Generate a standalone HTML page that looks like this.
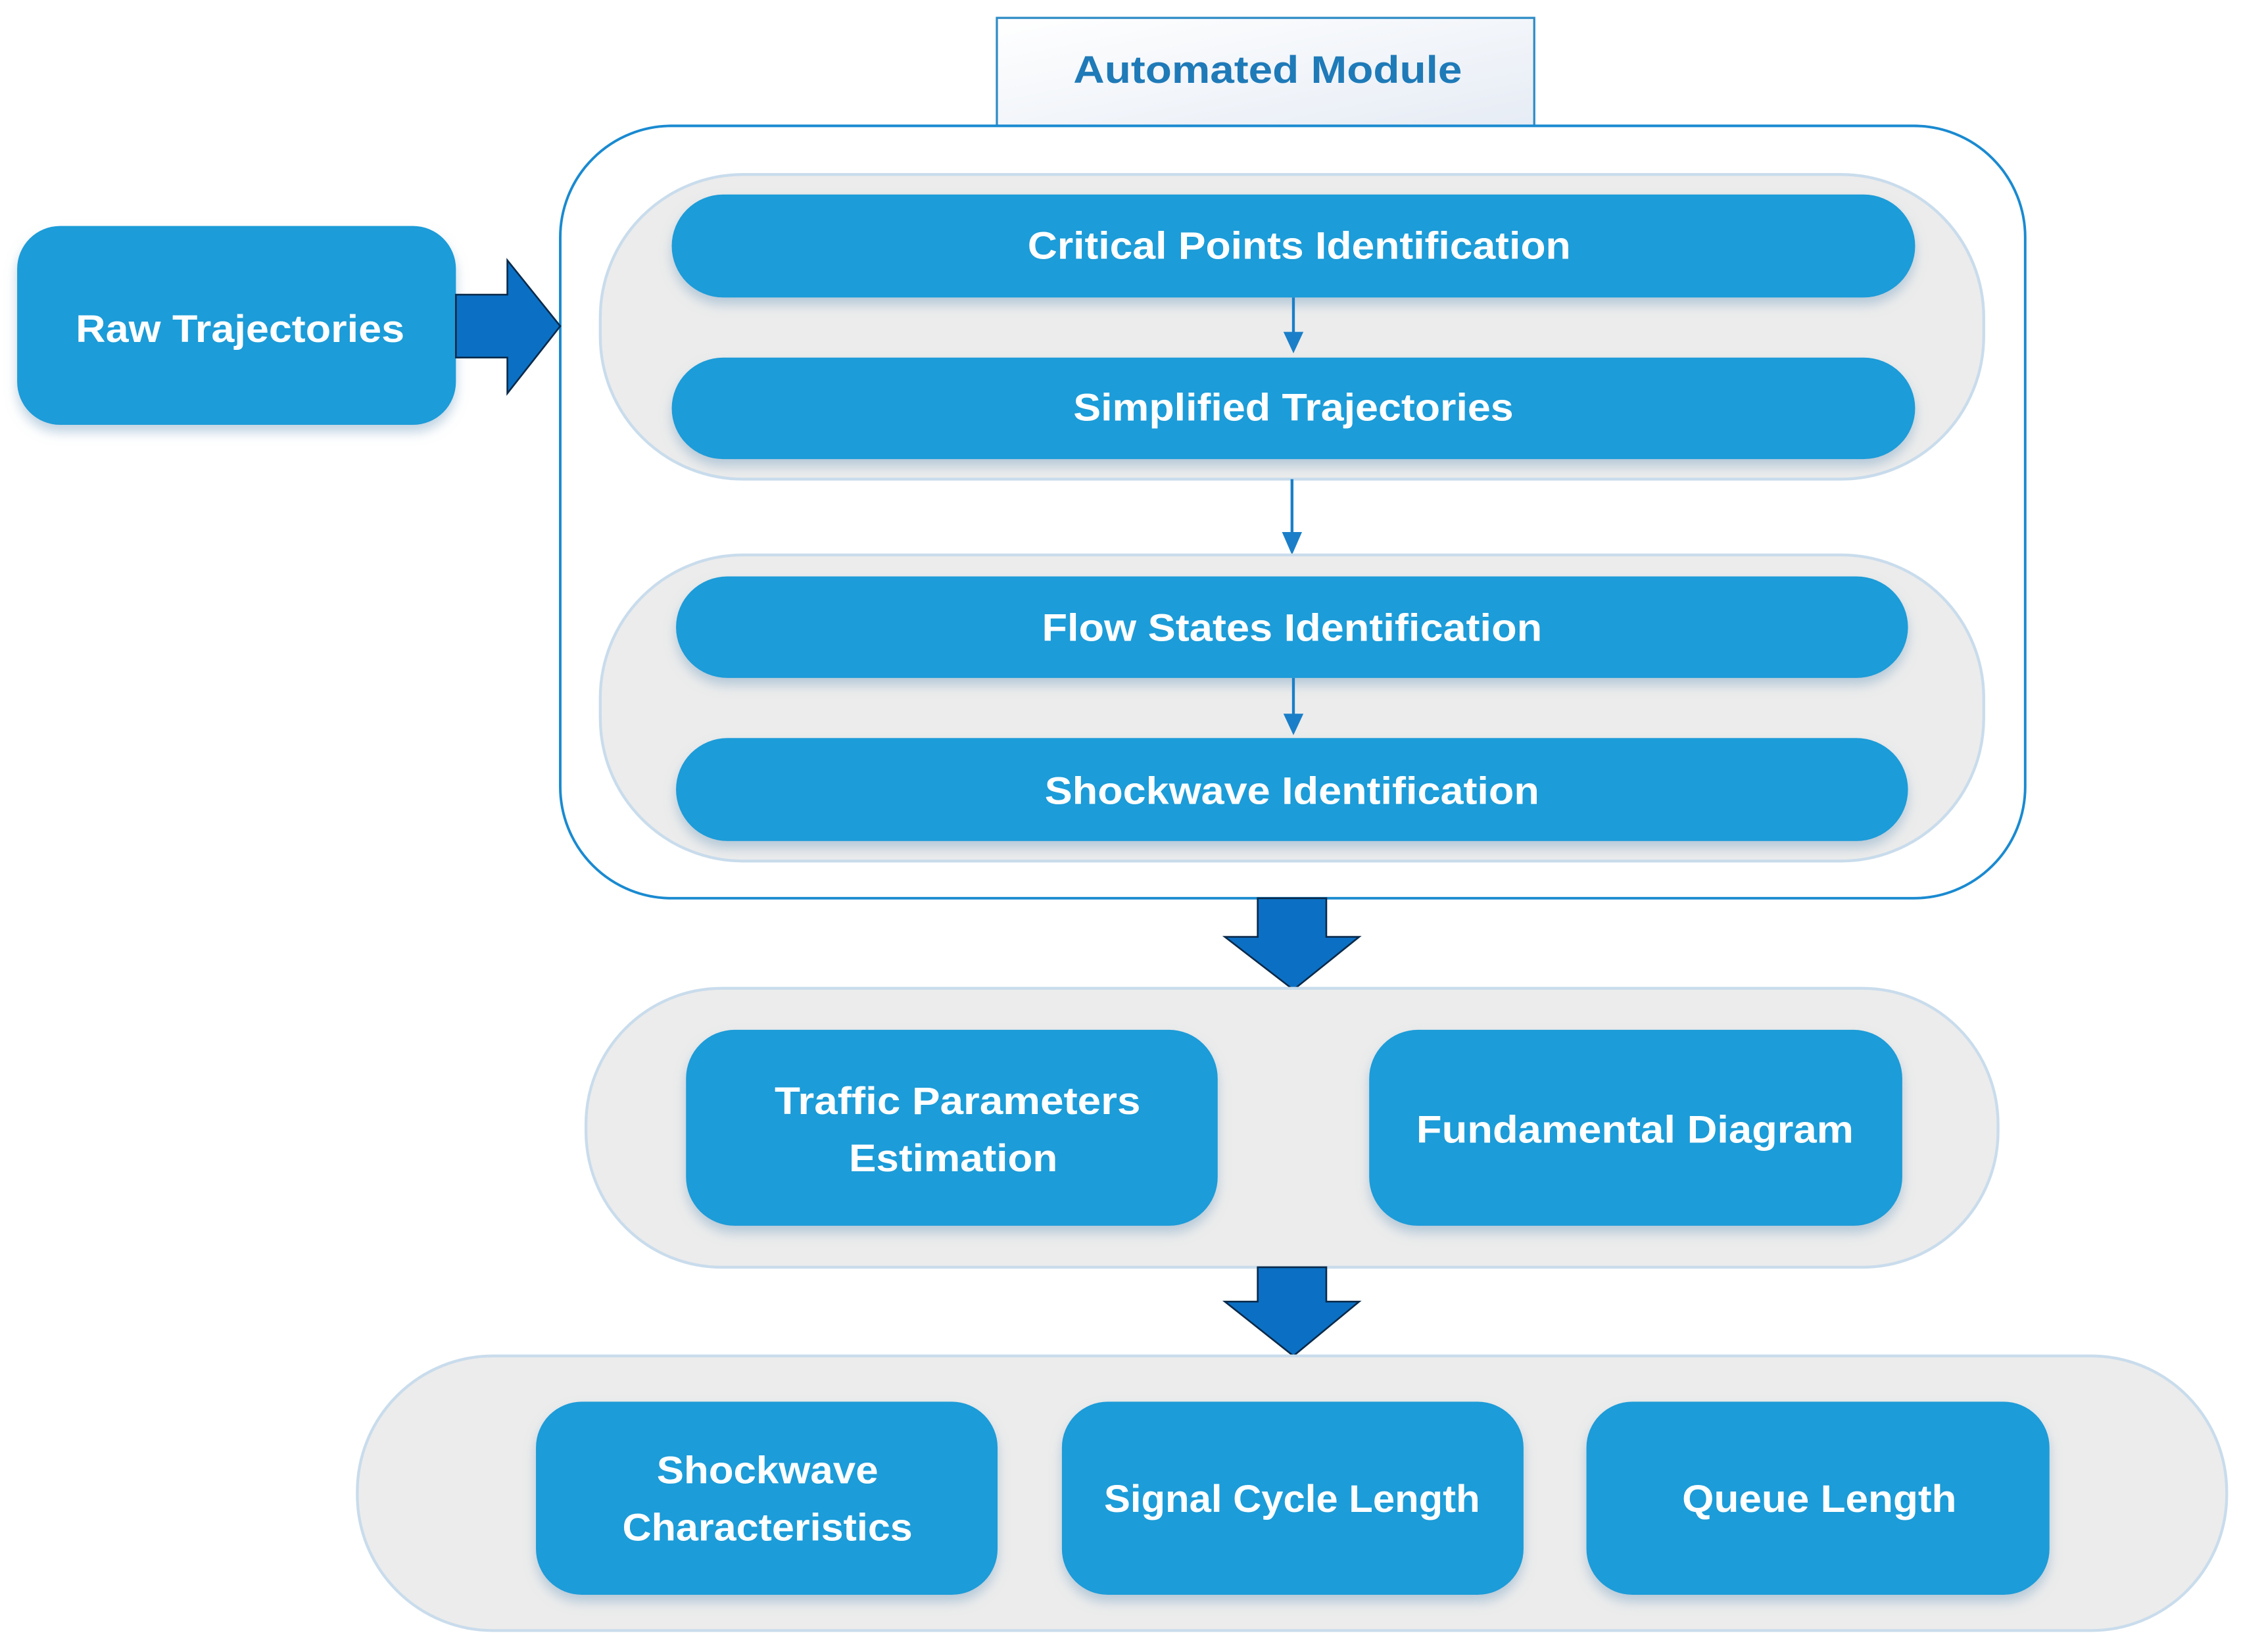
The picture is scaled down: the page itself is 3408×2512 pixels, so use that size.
<!DOCTYPE html>
<html><head><meta charset="utf-8"><style>html,body{margin:0;padding:0;background:#fff}svg{display:block}</style></head>
<body>
<svg width="3408" height="2512" viewBox="0 0 1568 1155" preserveAspectRatio="none" xmlns="http://www.w3.org/2000/svg" font-family="Liberation Sans, sans-serif" font-weight="bold">
<defs>
<filter id="sh" x="-10%" y="-20%" width="120%" height="150%"><feDropShadow dx="0" dy="5" stdDeviation="4" flood-color="#7fa6c4" flood-opacity="0.5"/></filter>
<linearGradient id="tab" x1="0" y1="0" x2="1" y2="1"><stop offset="0" stop-color="#fff"/><stop offset="1" stop-color="#e6ecf5"/></linearGradient>
</defs>
<!-- tab -->
<rect x="697.5" y="12.5" width="376" height="76" fill="url(#tab)" stroke="#2f8cc6" stroke-width="1.5"/>
<text x="887" y="58" font-size="27" fill="#1f7ab8" text-anchor="middle" textLength="272" lengthAdjust="spacingAndGlyphs">Automated Module</text>
<!-- outer -->
<rect x="392" y="88" width="1025" height="540" rx="78" fill="#fff" stroke="#1a8ad0" stroke-width="1.8"/>
<!-- group 1 -->
<rect x="420" y="122" width="968" height="213" rx="100" fill="#ececec" stroke="#c9dcec" stroke-width="2"/>
<rect x="470" y="136" width="870" height="72" rx="36" fill="#1e9cd8" filter="url(#sh)"/>
<rect x="470" y="250" width="870" height="71" rx="36" fill="#1e9cd8" filter="url(#sh)"/>
<text x="909" y="181" font-size="27" fill="#fff" text-anchor="middle" textLength="380" lengthAdjust="spacingAndGlyphs">Critical Points Identification</text>
<text x="905" y="294" font-size="27" fill="#fff" text-anchor="middle" textLength="308" lengthAdjust="spacingAndGlyphs">Simplified Trajectories</text>
<line x1="905" y1="208" x2="905" y2="236" stroke="#1a7fc8" stroke-width="2"/>
<polygon points="898,232 912,232 905,247" fill="#1a7fc8"/>
<line x1="904" y1="335" x2="904" y2="374" stroke="#1a7fc8" stroke-width="2"/>
<polygon points="897,372 911,372 904,388" fill="#1a7fc8"/>
<!-- group 2 -->
<rect x="420" y="388" width="968" height="214" rx="100" fill="#ececec" stroke="#c9dcec" stroke-width="2"/>
<rect x="473" y="403" width="862" height="71" rx="36" fill="#1e9cd8" filter="url(#sh)"/>
<rect x="473" y="516" width="862" height="72" rx="36" fill="#1e9cd8" filter="url(#sh)"/>
<text x="904" y="448" font-size="27" fill="#fff" text-anchor="middle" textLength="350" lengthAdjust="spacingAndGlyphs">Flow States Identification</text>
<text x="904" y="562" font-size="27" fill="#fff" text-anchor="middle" textLength="346" lengthAdjust="spacingAndGlyphs">Shockwave Identification</text>
<line x1="905" y1="474" x2="905" y2="502" stroke="#1a7fc8" stroke-width="2"/>
<polygon points="898,499 912,499 905,514" fill="#1a7fc8"/>
<!-- raw -->
<rect x="12" y="158" width="307" height="139" rx="30" fill="#1e9cd8" filter="url(#sh)"/>
<text x="168" y="239" font-size="27" fill="#fff" text-anchor="middle" textLength="230" lengthAdjust="spacingAndGlyphs">Raw Trajectories</text>
<polygon points="319,206 355,206 355,182 392,228 355,275 355,250 319,250" fill="#0b70c4" stroke="#0a2a4a" stroke-width="1.2"/>
<!-- down arrow 1 -->
<polygon points="880,628 928,628 928,655 951,655 905,692 857,655 880,655" fill="#0b70c4" stroke="#0a2a4a" stroke-width="1.2"/>
<!-- group 3 -->
<rect x="410" y="691" width="988" height="195" rx="95" fill="#ececec" stroke="#c9dcec" stroke-width="2"/>
<rect x="480" y="720" width="372" height="137" rx="34" fill="#1e9cd8" filter="url(#sh)"/>
<rect x="958" y="720" width="373" height="137" rx="34" fill="#1e9cd8" filter="url(#sh)"/>
<text x="670" y="779" font-size="27" fill="#fff" text-anchor="middle" textLength="256" lengthAdjust="spacingAndGlyphs">Traffic Parameters</text>
<text x="667" y="819" font-size="27" fill="#fff" text-anchor="middle" textLength="146" lengthAdjust="spacingAndGlyphs">Estimation</text>
<text x="1144" y="799" font-size="27" fill="#fff" text-anchor="middle" textLength="306" lengthAdjust="spacingAndGlyphs">Fundamental Diagram</text>
<!-- down arrow 2 -->
<polygon points="880,886 928,886 928,910 951,910 905,948 857,910 880,910" fill="#0b70c4" stroke="#0a2a4a" stroke-width="1.2"/>
<!-- group 4 -->
<rect x="250" y="948" width="1308" height="192" rx="95" fill="#ececec" stroke="#c9dcec" stroke-width="2"/>
<rect x="375" y="980" width="323" height="135" rx="32" fill="#1e9cd8" filter="url(#sh)"/>
<rect x="743" y="980" width="323" height="135" rx="32" fill="#1e9cd8" filter="url(#sh)"/>
<rect x="1110" y="980" width="324" height="135" rx="32" fill="#1e9cd8" filter="url(#sh)"/>
<text x="537" y="1037" font-size="27" fill="#fff" text-anchor="middle" textLength="155" lengthAdjust="spacingAndGlyphs">Shockwave</text>
<text x="537" y="1077" font-size="27" fill="#fff" text-anchor="middle" textLength="203" lengthAdjust="spacingAndGlyphs">Characteristics</text>
<text x="904" y="1057" font-size="27" fill="#fff" text-anchor="middle" textLength="263" lengthAdjust="spacingAndGlyphs">Signal Cycle Length</text>
<text x="1273" y="1057" font-size="27" fill="#fff" text-anchor="middle" textLength="192" lengthAdjust="spacingAndGlyphs">Queue Length</text>
</svg>
</body></html>
